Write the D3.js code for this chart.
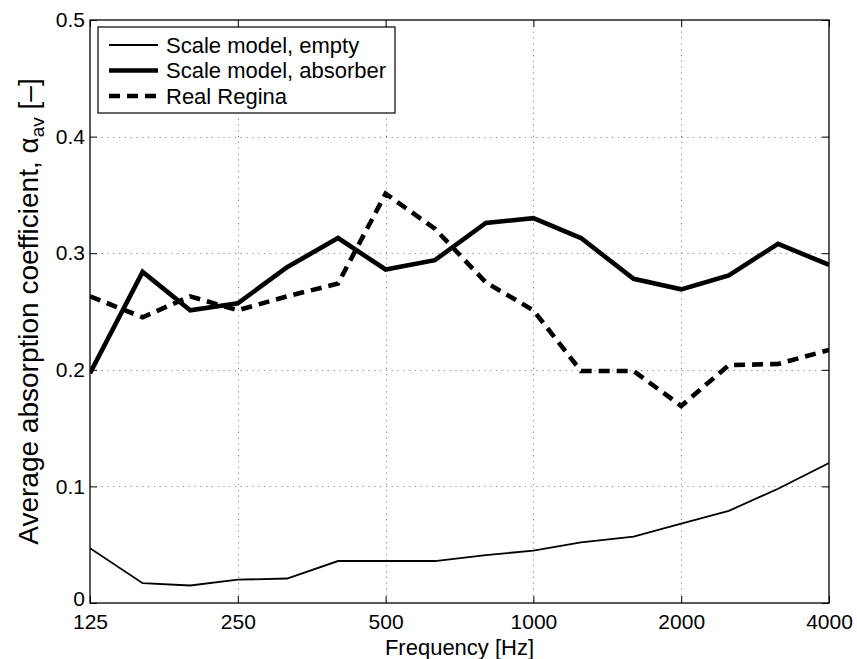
<!DOCTYPE html>
<html>
<head>
<meta charset="utf-8">
<script src="https://cdn.jsdelivr.net/npm/d3@7"></script>
<style>
  body { margin: 0; background: #fff; }
  svg { display: block; font-family: 'Liberation Sans', Arial, Helvetica, sans-serif; }
</style>
</head>
<body>
<div id="chart"></div>
<script>
// third-octave bands
let freqs = [125, 160, 200, 250, 315, 400, 500, 630, 800, 1000, 1250, 1600, 2000, 2500, 3150, 4000]

let scaleEmpty = [0.047, 0.017, 0.015, 0.020, 0.021, 0.036, 0.036, 0.036, 0.041, 0.045, 0.052, 0.057, 0.068, 0.079, 0.098, 0.120]
let scaleAbsorber = [0.197, 0.284, 0.251, 0.257, 0.288, 0.313, 0.286, 0.294, 0.326, 0.330, 0.313, 0.278, 0.269, 0.281, 0.308, 0.290]
let realRegina = [0.263, 0.245, 0.263, 0.251, 0.263, 0.274, 0.351, 0.321, 0.275, 0.251, 0.199, 0.199, 0.169, 0.204, 0.205, 0.217]

let xTicks = [125, 250, 500, 1000, 2000, 4000]
let yTicks = [0, 0.1, 0.2, 0.3, 0.4, 0.5]

let seriesNames = ['Scale model, empty', 'Scale model, absorber', 'Real Regina']

let width = 857, height = 659
let mLeft = 90, mRight = 829, mTop = 20, mBottom = 603

let svg = d3.select('#chart').append('svg')
  .attr('width', width)
  .attr('height', height)

let x = d3.scaleLog().domain([125, 4000]).range([mLeft, mRight])
let y = d3.scaleLinear().domain([0, 0.5]).range([mBottom, mTop])

// grid
let grid = svg.append('g').attr('class', 'grid')
  .style('stroke', '#8a8a8a')
  .style('stroke-width', 1)
  .style('stroke-dasharray', '1.2,4.6')

grid.selectAll('.vgrid')
  .data(xTicks.slice(1, -1))
  .join('line')
  .attr('x1', d => Math.round(x(d)) + 0.5)
  .attr('x2', d => Math.round(x(d)) + 0.5)
  .attr('y1', mTop)
  .attr('y2', mBottom)

grid.selectAll('.hgrid')
  .data(yTicks.slice(1, -1))
  .join('line')
  .attr('x1', mLeft)
  .attr('x2', mRight)
  .attr('y1', d => Math.round(y(d)) + 0.5)
  .attr('y2', d => Math.round(y(d)) + 0.5)

// axes (ticks inward, box on)
let tickLen = 7
let fmtX = d3.format('d')

let xAxisB = svg.append('g')
  .attr('transform', `translate(0,${mBottom})`)
  .call(d3.axisBottom(x).tickValues(xTicks).tickFormat(fmtX).tickSizeInner(-tickLen).tickSizeOuter(0).tickPadding(11))
let xAxisT = svg.append('g')
  .attr('transform', `translate(0,${mTop})`)
  .call(d3.axisTop(x).tickValues(xTicks).tickFormat('').tickSizeInner(-tickLen).tickSizeOuter(0))
let yAxisL = svg.append('g')
  .attr('transform', `translate(${mLeft},0)`)
  .call(d3.axisLeft(y).tickValues(yTicks).tickFormat(d => d === 0 ? '0' : d3.format('.1f')(d)).tickSizeInner(-tickLen).tickSizeOuter(0).tickPadding(5))
let yAxisR = svg.append('g')
  .attr('transform', `translate(${mRight},0)`)
  .call(d3.axisRight(y).tickValues(yTicks).tickFormat('').tickSizeInner(-tickLen).tickSizeOuter(0))

for (let a of [xAxisB, xAxisT, yAxisL, yAxisR]) {
  a.select('.domain').remove()
  a.selectAll('line').style('stroke', '#000').style('stroke-width', 1)
  a.selectAll('text').style('font-size', '21px').style('fill', '#000')
}
xAxisB.selectAll('text').attr('dy', '0.71em')
// "0" sits just above the "125" label, nudge it up a bit
yAxisL.selectAll('text').filter(d => d === 0).attr('dy', '0.12em')

// lines
svg.append('defs').append('clipPath').attr('id', 'clip')
  .append('rect').attr('x', mLeft).attr('y', mTop).attr('width', mRight - mLeft).attr('height', mBottom - mTop)

let line = d3.line().x(d => x(d[0])).y(d => y(d[1]))

let styles = [
  { w: 1.8, dash: null },
  { w: 4.6, dash: null },
  { w: 4.6, dash: '11,7' }
]
let seriesData = [scaleEmpty, scaleAbsorber, realRegina]

svg.append('g').attr('clip-path', 'url(#clip)')
  .selectAll('path')
  .data(seriesData)
  .join('path')
  .attr('d', d => line(freqs.map((f, i) => [f, d[i]])))
  .attr('fill', 'none')
  .style('stroke', '#000')
  .style('stroke-width', (d, i) => styles[i].w)
  .style('stroke-dasharray', (d, i) => styles[i].dash)

// frame
svg.append('rect')
  .attr('x', mLeft).attr('y', mTop)
  .attr('width', mRight - mLeft).attr('height', mBottom - mTop)
  .attr('fill', 'none')
  .style('stroke', '#000')
  .style('stroke-width', 1.3)

// legend
let leg = svg.append('g').attr('transform', 'translate(98,27)')
leg.append('rect')
  .attr('width', 297).attr('height', 86)
  .attr('fill', '#fff')
  .style('stroke', '#000')
  .style('stroke-width', 1.2)

let rows = leg.selectAll('.row')
  .data(seriesNames)
  .join('g')
  .attr('transform', (d, i) => `translate(0,${18 + i * 25.5})`)

rows.append('line')
  .attr('x1', 11).attr('x2', 60)
  .style('stroke', '#000')
  .style('stroke-width', (d, i) => styles[i].w)
  .style('stroke-dasharray', (d, i) => styles[i].dash)

rows.append('text')
  .attr('x', 68)
  .attr('dy', '0.36em')
  .style('font-size', '22px')
  .text(d => d)

// axis labels
svg.append('text')
  .attr('x', (mLeft + mRight) / 2)
  .attr('y', 654.5)
  .attr('text-anchor', 'middle')
  .style('font-size', '22px')
  .text('Frequency [Hz]')

let yl = svg.append('text')
  .attr('transform', `translate(38,${(mTop + mBottom) / 2}) rotate(-90)`)
  .attr('text-anchor', 'middle')
  .style('font-size', '28px')
yl.append('tspan').text('Average absorption coefficient, α')
yl.append('tspan').attr('dy', 6).style('font-size', '19px').text('av')
yl.append('tspan').attr('dy', -6).text(' [–]')
</script>
</body>
</html>
